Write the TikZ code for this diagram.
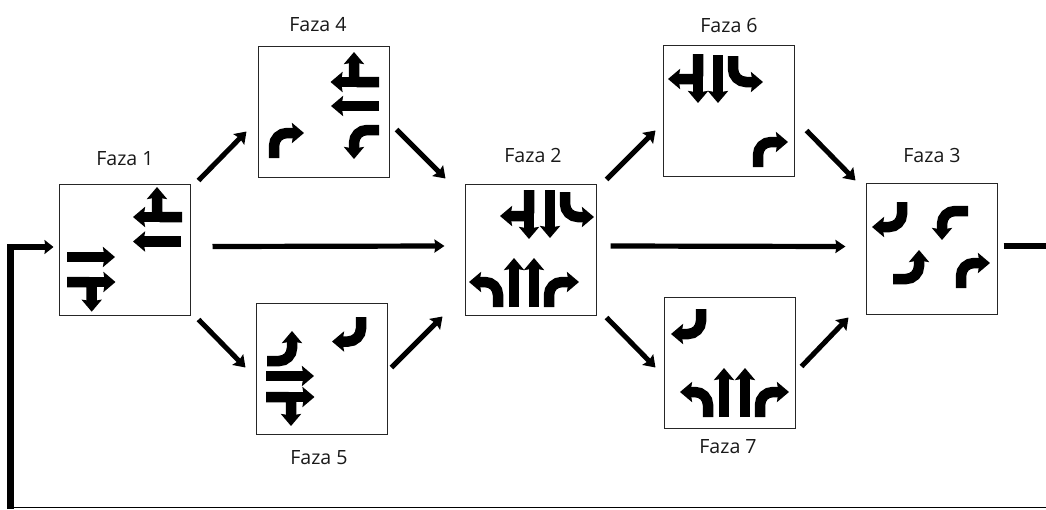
\documentclass[tikz,border=0pt]{standalone}
\usepackage{fontspec}
\setmainfont{Open Sans}
\usetikzlibrary{arrows.meta}
\tikzset{
  x=1pt,y=-1pt,
  box/.style={draw=black!85,line width=1.2pt,fill=white,minimum width=131pt,minimum height=131pt,inner sep=0pt,outer sep=0pt},
  lab/.style={font=\fontsize{19.6}{22}\selectfont,inner sep=0pt,text=black!90},
  gl/.style={line width=10.5pt,black,-{Stealth[length=12pt,width=20pt,inset=1.5pt]}},
  gc/.style={gl,rounded corners=13pt},
  gt/.style={gl,rounded corners=4pt},
  conn/.style={line width=5pt,black,-{Stealth[length=11pt,width=15pt,inset=1.5pt]}},
  connb/.style={line width=5.2pt,black,-{Stealth[length=10pt,width=13pt,inset=1pt]}},
}
\begin{document}
\begin{tikzpicture}
\useasboundingbox (0,0) rectangle (1046,509);
\node[box] (f1) at (125,250) {};
\node[box] (f4) at (324,112) {};
\node[box] (f5) at (322,369) {};
\node[box] (f2) at (531,250) {};
\node[box] (f6) at (729,111) {};
\node[box] (f7) at (730,363) {};
\node[box] (f3) at (932,249) {};
\node[lab] (l1) at (125,159) {Faza 1};
\node[lab] (l4) at (318,25) {Faza 4};
\node[lab] (l5) at (319,458) {Faza 5};
\node[lab] (l2) at (533,155) {Faza 2};
\node[lab] (l6) at (729,25) {Faza 6};
\node[lab] (l7) at (728,447) {Faza 7};
\node[lab] (l3) at (932,155) {Faza 3};
% connectors
\draw[conn] ([shift={(8,-4)}]f1.north east) -- ([shift={(-12,-46)}]f4.south west);
\draw[conn] ([shift={(7,-48)}]f4.south east) -- ([shift={(-20,-6)}]f2.north west);
\draw[conn] ([shift={(8,4)}]f1.south east) -- ([shift={(-11,64)}]f5.north west);
\draw[conn] ([shift={(4,64)}]f5.north east) -- ([shift={(-23,1)}]f2.south west);
\draw[connb] ([shift={(22,-3.5)}]f1.east) -- ([shift={(-21,-4)}]f2.west);
\draw[conn] ([shift={(10,-5)}]f2.north east) -- ([shift={(-8,-46)}]f6.south west);
\draw[conn] ([shift={(12,-46)}]f6.south east) -- ([shift={(-11,-3)}]f3.north west);
\draw[conn] ([shift={(10,2)}]f2.south east) -- ([shift={(-9,70)}]f7.north west);
\draw[conn] ([shift={(6,69)}]f7.north east) -- ([shift={(-18,3)}]f3.south west);
\draw[connb] ([shift={(14,-4)}]f2.east) -- ([shift={(-21,-2.5)}]f3.west);
\coordinate (exit) at (1046,246);
\coordinate (corner) at (10.8,247);
\coordinate (base) at (10.8,509);
\coordinate (baseR) at (1046,507);
\draw[line width=6pt,black] ([xshift=6pt]f3.east |- exit) -- (exit);
\draw[line width=7pt,black] (base) -- (10.8,243.7);
\draw[line width=6.5pt,black,-{Stealth[length=9pt,width=14pt,inset=1pt]}] (8,247) -- ([xshift=-6pt]f1.west |- corner);
\draw[line width=1pt,black] (10.8,507.5) -- (baseR |- 0,507.5);
% Faza 1
\draw[gl] (182,217) -- (133,217);
\draw[gt] (182,217) -| (157,187);
\draw[gl] (181,241.5) -- (133,241.5);
\draw[gl] (67,257) -- (115,257);
\draw[gl] (67,282) -- (115.5,282);
\draw[gt] (67,282) -| (91.7,311.7);
% Faza 4
\draw[gl] (379,82) -- (330.5,82);
\draw[gt] (379,82) -| (354,52);
\draw[gl] (379,106) -- (331,106);
\draw[gc] (379,130) -| (354,159);
\draw[gc] (274,158) |- (304,133);
% Faza 5
\draw[gc] (361,317) |- (332,341.5);
\draw[gc] (267,361) -| (292,331);
\draw[gl] (266,376) -- (314,376);
\draw[gl] (266,397) -- (314.5,397);
\draw[gt] (266,397) -| (291,426);
% Faza 2
\draw[gl] (529,190) -- (529,239);
\draw[gt] (529,190) |- (500,216);
\draw[gl] (550,190) -- (550,238);
\draw[gc] (565,192) |- (594,217);
\draw[gc] (498,307) |- (469,282);
\draw[gl] (514,307) -- (514,258);
\draw[gl] (534,307) -- (534,258);
\draw[gc] (549,307) |- (579,282);
% Faza 6
\draw[gl] (698,54) -- (698,103);
\draw[gt] (698,54) |- (668,79);
\draw[gl] (718,55) -- (718,103);
\draw[gc] (733,56) |- (763,82);
\draw[gc] (758,167) |- (788,142);
% Faza 7
\draw[gc] (701,309) |- (671,334);
\draw[gc] (708,417) |- (680,392);
\draw[gl] (724,417) -- (724,368);
\draw[gl] (745,417) -- (745,368);
\draw[gc] (760,417) |- (789,392);
% Faza 3
\draw[gc] (902,202) |- (872,227);
\draw[gc] (968,211) -| (942,240);
\draw[gc] (893,279) -| (919,250);
\draw[gc] (961,288) |- (990,263);
\end{tikzpicture}
\end{document}
